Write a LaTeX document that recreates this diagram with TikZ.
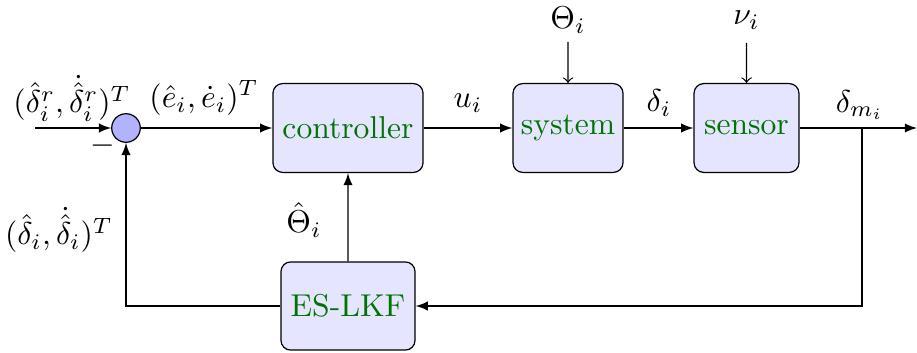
\documentclass[tikz,border=0pt]{standalone}
\usepackage{amsmath}
\usetikzlibrary{arrows}
\begin{document}
\begin{tikzpicture}[x=0.329pt,y=-0.329pt,
  lbl/.style={scale=1.04},
  blk/.style={scale=1.04,draw=black,fill=blue!10,rounded corners=3.2pt,text=green!45!black,inner sep=0pt},
  sumc/.style={draw=black,fill=blue!30,circle,minimum size=9.4pt,inner sep=0pt},
  sig/.style={-latex},
  thin/.style={->}]
\useasboundingbox (0,0) rectangle (917,353);
\node[sumc] (sum) at (126,128) {};
\node[blk,minimum width=47.5pt,minimum height=28.1pt] (ctrl) at (348,128) {controller};
\node[blk,minimum width=34.8pt,minimum height=28.1pt] (sys) at (568,128) {system};
\node[blk,minimum width=33.2pt,minimum height=28.1pt] (sens) at (746.5,128) {sensor};
\node[blk,minimum width=42.4pt,minimum height=27.9pt] (kf) at (348,306) {ES-LKF};
\coordinate (in) at (35,128);
\coordinate (out) at (917,128);
\coordinate (br) at (862,128);
\coordinate (brd) at (862,306);
\coordinate (lc) at (126,306);
\coordinate (th) at (568,42);
\coordinate (nu) at (746.5,43);
\node[lbl] (thl) at (568,20) {$\Theta_i$};
\node[lbl] (nul) at (746.5,20) {$\nu_i$};
\draw[sig] (in) -- (sum);
\draw[sig] (sum) -- (ctrl);
\draw[sig] (ctrl) -- (sys);
\draw[sig] (sys) -- (sens);
\draw[sig] (sens) -- (out);
\draw[sig] (br) -- (brd) -- (kf);
\draw[sig] (kf) -- (lc) -- (sum);
\draw[sig] (kf) -- (ctrl);
\draw[thin] (th) -- (sys);
\draw[thin] (nu) -- (sens);
\node[lbl] (l1) at (72,98) {$(\hat{\delta}^r_i,\dot{\hat{\delta}}^r_i)^T$};
\node[lbl] (l2) at (204,98) {$(\hat{e}_i,\dot{e}_i)^T$};
\node[lbl] (l3) at (468,103) {$u_i$};
\node[lbl] (l4) at (659,103) {$\delta_i$};
\node[lbl] (l5) at (860,105) {$\delta_{m_i}$};
\node[lbl] (l6) at (304,220) {$\hat{\Theta}_i$};
\node[lbl] (l7) at (103,146) {$-$};
\node[lbl] (l8) at (59,230) {$(\hat{\delta}_i,\dot{\hat{\delta}}_i)^T$};
\end{tikzpicture}
\end{document}
